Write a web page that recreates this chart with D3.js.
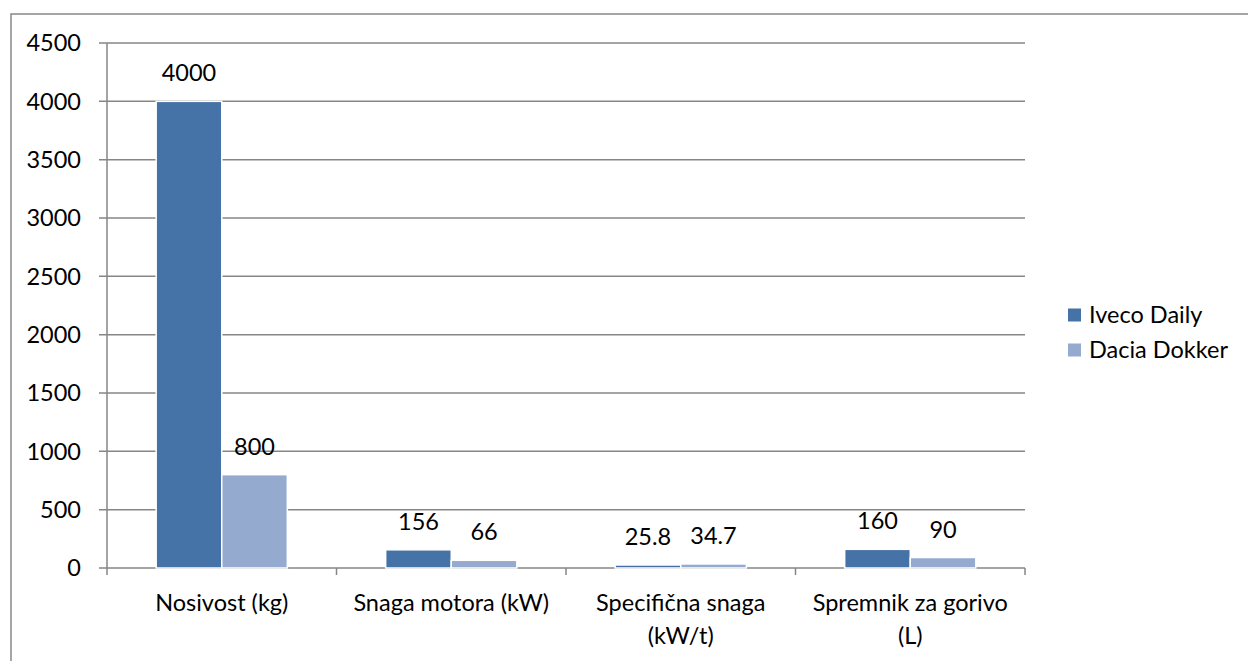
<!DOCTYPE html>
<html><head><meta charset="utf-8">
<script src="https://cdn.jsdelivr.net/npm/d3@7"></script>
<style>body{margin:0;background:#fff}text{font-family:Lato,"Open Sans",sans-serif;fill:#000}</style>
</head><body><svg id="c" width="1248" height="661"></svg>
<script>
const categories = [["Nosivost (kg)"],["Snaga motora (kW)"],["Specifična snaga","(kW/t)"],["Spremnik za gorivo","(L)"]];
const seriesNames = ["Iveco Daily","Dacia Dokker"];
const ivecoDaily = [4000,156,25.8,160];
const daciaDokker = [800,66,34.7,90];
const valueLabels = [["4000","156","25.8","160"],["800","66","34.7","90"]];
const yTicks = [0,500,1000,1500,2000,2500,3000,3500,4000,4500];
const colors = ["#4572A7","#95AACF"];
const FS = 23.5;

const svg = d3.select("#c");
const L=107,R=1025,T=43,B=568;
svg.append("rect").attr("x",11).attr("y",14).attr("width",1260).attr("height",700).attr("fill","none").attr("stroke","#888").attr("stroke-width",1.5);
const x0 = d3.scaleBand().domain(d3.range(categories.length)).range([L,R]).paddingInner(0).paddingOuter(0);
const inner = d3.scaleBand().domain([0,1]).range([0,x0.bandwidth()]).paddingOuter(0.75).paddingInner(0);
const y = d3.scaleLinear().domain([0,4500]).range([B,T]);
const grid = svg.append("g");
yTicks.forEach(t=>{
  grid.append("line").attr("x1",L-8).attr("x2",R).attr("y1",y(t)).attr("y2",y(t)).attr("stroke","#868686").attr("stroke-width",1.5);
  svg.append("text").attr("x",81).attr("y",y(t)).attr("dy","0.36em").attr("text-anchor","end").attr("font-size",FS).text(t);
});
svg.append("line").attr("x1",L).attr("x2",L).attr("y1",T).attr("y2",B).attr("stroke","#868686").attr("stroke-width",1.5);
d3.range(categories.length+1).forEach(i=>{
  const xx = i<categories.length? x0(i) : R;
  svg.append("line").attr("x1",xx).attr("x2",xx).attr("y1",B).attr("y2",B+7).attr("stroke","#868686").attr("stroke-width",1.5);
});
const data=[ivecoDaily,daciaDokker];
data.forEach((s,si)=>{
  s.forEach((v,ci)=>{
    const bx = x0(ci)+inner(si);
    svg.append("rect").attr("x",bx).attr("y",y(v)).attr("width",inner.bandwidth()).attr("height",B-y(v))
      .attr("fill",colors[si]).attr("stroke","#fff").attr("stroke-width",1.5);
    svg.append("text").attr("x",bx+inner.bandwidth()/2).attr("y",y(v)-20).attr("text-anchor","middle").attr("font-size",FS).text(valueLabels[si][ci]);
  });
});
categories.forEach((c,ci)=>{
  c.forEach((line,li)=>{
    svg.append("text").attr("x",x0(ci)+x0.bandwidth()/2).attr("y",603+li*33).attr("dy","0.36em").attr("text-anchor","middle").attr("font-size",FS).text(line);
  });
});
seriesNames.forEach((n,i)=>{
  const ly=315+i*35;
  svg.append("rect").attr("x",1068).attr("y",ly-6.5).attr("width",13).attr("height",13).attr("fill",colors[i]);
  svg.append("text").attr("x",1089).attr("y",ly).attr("dy","0.36em").attr("font-size",FS).text(n);
});
</script></body></html>
